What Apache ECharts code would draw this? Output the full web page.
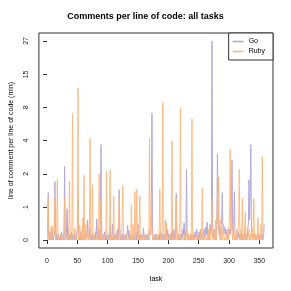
<!DOCTYPE html>
<html><head><meta charset="utf-8">
<script src="https://cdn.jsdelivr.net/npm/echarts@6/dist/echarts.min.js"></script>
<style>html,body{margin:0;padding:0;background:#fff}#c{width:291px;height:291px}</style>
</head><body><div id="c"></div>
<script>
const goValues = [
0.1,1.21,0.05,0,0.15,0,0.08,0,0.2,0,0.05,0.1,1.65,0.1,0,0.12,0,0.05,0.1,0,
0,0.08,0,0.15,0.05,0,0.1,0,2.43,0.1,0,0.12,0.69,0.05,0.2,0,0.1,0,0.05,0.15,
0,0.1,0,0.05,0.12,0,0.08,0,0.1,0.2,1.0,0.1,0,0.05,0,0.15,0,0.1,0.05,0,
0.1,0,0.05,0.15,0,0.1,0.4,0.05,0,0.1,0.2,0,0.08,0,0.12,0,0.05,0.1,0,0.15,
0.05,0.42,0.1,0,0.08,0.2,0,0.1,3.93,0.3,0,0.05,0.1,0,0.15,0.05,0,0.1,0,0.05,
0,0.1,0,0.25,0.05,0,0.1,0.3,0,0.05,0.1,0,0.08,0,0.1,0.2,0,0.1,1.32,0.2,
0,0.05,0,0.1,0,0.08,0,0.05,0.1,0,0,0.1,0.28,0.05,0.18,0,0.05,0,0.1,0,
0.05,0,0.1,0,0.05,0.1,0,0.15,0.05,0.3,0,0.1,0,0.05,0,0.1,0.05,0,0.22,0.05,
0,0.1,0,0.05,0.1,0,0.05,0,0.1,0.2,0.1,0.3,7.4,0.2,0,0.05,0,0.1,0,0.05,
0.1,0,0.05,0,0.1,0,0.15,0,0.05,0.1,0,0.05,0,0.1,0.05,0,0.15,0.05,0.2,0,
0.1,0,0.05,0.1,0,0.15,0.05,0,0.2,0.1,0,0.15,1.19,0.2,0.05,0,0.1,0,0.05,0.1,
0,0.1,0.05,0.2,0.1,0.33,0.05,0,0.2,2.24,0.15,0,0.05,0.1,0,0.05,0,0.1,0,0.05,
0.1,0,0.05,0.15,0.05,0.1,0.2,0.05,0,0.1,0.15,0,0.05,0.15,0.1,0,0.05,0.1,0.2,0.05,
0.1,0.25,0.1,0.35,0.05,0.1,0,0.15,0.3,0.1,0.2,27,0.3,0.1,0.05,0.2,0.1,0,0.15,0.3,
3.24,0.8,0.2,0.1,0.25,0.1,0.3,0.4,1.21,0.2,0.1,0.15,0.25,0.1,0.2,0.05,0.15,0.1,0,0.1,
0.2,0.1,0.3,0.5,2.83,0.3,0.1,0.4,1.25,0.1,0,0.05,0.1,0,0.15,0.05,0.1,0,0.05,0.1,
0,0.1,0.05,0,0.1,0.2,0.05,0,0.1,0.05,0.2,0.3,1.74,0.4,1.2,3.93,0.3,0.1,0,0.05,
0.1,0,0.05,0.1,0,0.05,0.1,0,0.05,0.1,0,0.05,0.1,0,0.05,0.1,0.05,0.3
];
const rubyValues = [
0,1.0,0,0,0.05,0,0.25,0,0.27,0,0,0.1,1.0,0,0,0.2,1.77,0.1,0,0,
0.05,0.1,0,0,0.05,0,0,0.1,1.0,0,0,0,0.1,0,0.05,0.2,1.68,0.1,0,0,
0.1,7.3,0,0,0.05,0.22,0,0,0.05,0.1,11.8,0,0.05,0.28,0,0,0.18,0,0.45,0,
1.95,0,0.05,0.3,0,0,0.1,0,0,0.2,4.46,0.1,0,0.05,1.52,0,0,0.1,0,0,
0.05,0,0.1,0,0.2,2.02,0.3,0,1.0,0,0.05,0,0,0.1,0,0,0.05,2.15,0.1,0,
0,0.05,0,2.24,0,0.1,0,0,0.05,1.08,0,0,0.1,0,0,0.05,0,0,1.0,0,
0,0.1,0,0,1.5,0,0.05,0,0,0,0.1,0,0,0.05,0,0,0.1,0,0.8,0,
0,0.3,0,0.1,1.25,0,0.2,1.35,0,0.1,0,0.3,1.1,0,0,0.05,0,0,0.1,0,
0,0.05,0,0,0.1,0,0,0.2,4.5,0.1,0.3,1.2,0.2,0,0,0.05,0,0,0.1,0,
0,0.05,0,0,0.2,1.36,0,0.1,0,0.3,8.95,0,0.05,0,0.4,0,0.33,0,0,0.05,
0,0,0.1,0,0.2,4.28,0.1,0,0,0.05,0,0.3,1.0,0,0,0.1,0,0.2,0.3,8.14,
0,0,0.05,0,0,0.1,0,0,0.05,0.2,0,0,0.1,0,0.05,0,0,0.2,6.6,0,
0,0.1,0,0,0.05,0,0,0.1,0,0,0.05,0,0.2,0,0.3,1.38,0,0.05,0,0,
0.1,0,0,0.05,0,0.2,0,0.25,0,0.1,0.3,1.0,0,0.05,0,0,0.1,0.4,0,0.2,
1.0,0.3,1.86,0.1,0,0.4,0,0.2,0,0.1,0.3,0,0,0.05,0,0.1,0,0.2,0,0.3,
0.5,3.54,0.2,1.0,0.1,0,0.3,0,0.1,0,0.05,0,0.2,0,0,0.4,2.27,0.1,0,0.2,
0,1.0,0,0.1,0,0.3,0.6,0,0,0.1,0,0,0.2,0,0.1,0,0,0.2,0,0.3,
1.0,0,0.1,0,0.05,0,0.2,0.45,0,0.1,0,0.05,0.3,0,3.05,0.2,0,0
];
const xTickValues = [0,50,100,150,200,250,300,350];
const yTickValues = [0,0.74,2.03,4.29,8.21,15.0,27.0];
const yTickLabels = ['0','1','2','4','8','15','27'];

const tr = v => Math.log1p(v);
const yTickPos = yTickValues.map(tr);
const toPairs = arr => arr.map((v,i)=>[i+1, tr(v)]);
const font = 'Liberation Sans, Arial, Helvetica, sans-serif';
const chart = echarts.init(document.getElementById('c'));
chart.setOption({
  animation:false,
  title:{text:'Comments per line of code: all tasks', left:'center', top:7,
    textStyle:{fontFamily:font,fontSize:9,fontWeight:'bold',color:'#000'}},
  legend:{orient:'vertical', right:18, top:33, data:[{name:'Go',icon:'rect'},{name:'Ruby',icon:'rect'}],
    itemWidth:11, itemHeight:1.6, itemGap:3, padding:[5,8,5,4],
    borderColor:'#333', borderWidth:1, borderRadius:0, backgroundColor:'#fff',
    textStyle:{fontFamily:font,fontSize:7,color:'#000'}},
  grid:{left:34, right:18, top:33, bottom:43, show:true, borderColor:'#333', borderWidth:1, containLabel:false},
  xAxis:{type:'value', min:-13.4, max:372.6, name:'task', nameLocation:'middle', nameGap:28,
    nameTextStyle:{fontFamily:font,fontSize:7,color:'#000'},
    axisLine:{show:false}, splitLine:{show:false},
    axisTick:{show:true, length:4, lineStyle:{color:'#333'}, customValues:xTickValues},
    axisLabel:{fontFamily:font,fontSize:7,color:'#222', margin:10, customValues:xTickValues}},
  yAxis:{type:'value', min:-0.1333, max:3.4653, name:'line of comment per line of code (min)',
    nameLocation:'middle', nameGap:22,
    nameTextStyle:{fontFamily:font,fontSize:7,color:'#000'},
    axisLine:{show:false}, splitLine:{show:false},
    axisTick:{show:true, length:4, lineStyle:{color:'#333'}, customValues:yTickPos},
    axisLabel:{fontFamily:font,fontSize:7,color:'#222', margin:9, rotate:90, customValues:yTickPos,
      formatter:v=>{const i=yTickPos.findIndex(p=>Math.abs(p-v)<1e-6);return i>=0?yTickLabels[i]:'';}}},
  series:[
    {name:'Go', type:'line', data:toPairs(goValues), symbol:'none', lineStyle:{width:1,color:'#b5a8d8'}, itemStyle:{color:'#b5a8d8'}, silent:true},
    {name:'Ruby', type:'line', data:toPairs(rubyValues), symbol:'none', lineStyle:{width:1,color:'#fdb67c',opacity:0.9}, itemStyle:{color:'#fdb67c'}, silent:true}
  ]
});
</script></body></html>
